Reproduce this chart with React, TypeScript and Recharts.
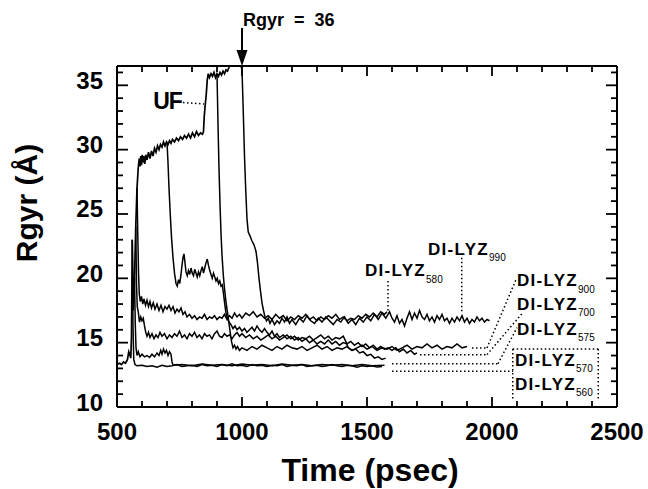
import React from 'react';
import { LineChart, Line, XAxis, YAxis, ReferenceLine, ReferenceDot, Label } from 'recharts';

type Pt = [number, number];

// time (psec) vs Rgyr (Å)
const uf: Pt[] = [
  [500, 13.3], [510, 13.4], [518, 13.3], [526, 13.5], [534, 13.4], [542, 13.7], [547, 14.3], [551, 14.1],
  [555, 13.8], [558, 15.5], [561, 23.0], [565, 17.5], [570, 20.0], [575, 24.0], [580, 27.0], [585, 28.6],
  [589, 29.3], [592, 28.7], [595, 29.5], [598, 28.8], [601, 29.6], [604, 29.0], [607, 29.5], [611, 28.9],
  [615, 29.6], [620, 29.2], [626, 29.8], [632, 29.3], [638, 29.9], [644, 29.5], [650, 30.1], [656, 29.8],
  [662, 30.3], [668, 30.0], [674, 30.4], [680, 30.2], [686, 30.6], [692, 30.3], [698, 30.6], [704, 30.4],
  [710, 30.7], [716, 30.5], [722, 30.8], [730, 30.6], [738, 30.9], [746, 30.7], [754, 31.0], [762, 30.8],
  [770, 31.1], [778, 30.9], [786, 31.2], [794, 30.9], [802, 31.3], [810, 31.0], [818, 31.4], [826, 31.1],
  [834, 31.3], [842, 31.2], [846, 31.4], [849, 32.6], [853, 33.5], [857, 34.3], [861, 35.4], [865, 35.9],
  [870, 35.6], [876, 35.9], [882, 35.7], [888, 36.0], [894, 35.6], [900, 35.9], [906, 35.7], [912, 36.0],
  [918, 35.8], [924, 36.1], [930, 35.9], [936, 36.2], [942, 36.1], [948, 36.4], [954, 36.9], [962, 37.2],
  [975, 37.3], [990, 36.9],
];

const di560: Pt[] = [
  [561, 23.0], [564, 16.2], [567, 13.7], [572, 13.3], [580, 13.2], [600, 13.25], [620, 13.15], [640, 13.2],
  [660, 13.1], [680, 13.25], [700, 13.15], [720, 13.2], [740, 13.3], [760, 13.15], [780, 13.2], [800, 13.25],
  [820, 13.15], [840, 13.3], [860, 13.2], [880, 13.25], [900, 13.15], [920, 13.3], [940, 13.2], [960, 13.35],
  [980, 13.2], [1000, 13.25], [1020, 13.15], [1040, 13.3], [1060, 13.2], [1080, 13.25], [1100, 13.15],
  [1120, 13.25], [1140, 13.2], [1160, 13.3], [1180, 13.15], [1200, 13.25], [1220, 13.2], [1240, 13.3],
  [1260, 13.15], [1280, 13.2], [1300, 13.25], [1320, 13.15], [1340, 13.2], [1360, 13.3], [1380, 13.2],
  [1400, 13.15], [1420, 13.25], [1440, 13.2], [1460, 13.1], [1480, 13.2], [1500, 13.15], [1520, 13.2],
  [1540, 13.1], [1560, 13.15],
];

const di570: Pt[] = [
  [570, 20.0], [573, 16.5], [576, 14.6], [580, 14.0], [585, 14.3], [592, 13.9], [600, 14.1], [610, 13.9],
  [620, 14.0], [630, 13.85], [640, 14.1], [650, 13.9], [660, 14.2], [668, 14.0], [675, 14.4], [680, 14.1],
  [686, 14.5], [692, 14.2], [698, 14.4], [704, 14.0], [710, 14.3], [716, 14.1], [720, 13.5], [724, 13.25],
  [760, 13.3], [800, 13.2], [840, 13.35], [880, 13.25], [920, 13.3], [960, 13.2], [1000, 13.35], [1040, 13.25],
  [1080, 13.3], [1120, 13.2], [1160, 13.35], [1200, 13.25], [1240, 13.3], [1280, 13.2], [1320, 13.3],
  [1360, 13.25], [1400, 13.3], [1440, 13.2], [1480, 13.3], [1520, 13.2], [1570, 13.25],
];

const di575: Pt[] = [
  [575, 24.0], [578, 19.5], [581, 17.8], [585, 17.4], [590, 16.6], [595, 17.0], [600, 16.7], [605, 16.9],
  [610, 16.3], [615, 15.8], [620, 15.5], [626, 15.8], [632, 15.4], [640, 15.7], [648, 15.3], [656, 15.6],
  [664, 15.4], [672, 15.8], [680, 15.5], [690, 15.7], [700, 15.3], [710, 15.6], [720, 15.4], [730, 15.7],
  [740, 15.5], [750, 15.9], [760, 15.4], [770, 15.6], [780, 15.3], [790, 15.7], [800, 15.5], [810, 15.8],
  [820, 15.4], [830, 15.6], [840, 15.3], [850, 15.7], [860, 15.5], [870, 15.6], [880, 15.3], [890, 15.7],
  [900, 15.9], [910, 15.5], [920, 15.4], [930, 15.7], [940, 15.5], [950, 15.6], [960, 15.3], [970, 15.6],
  [980, 15.8], [990, 15.5], [1000, 15.7], [1015, 15.4], [1030, 15.6], [1045, 15.3], [1060, 15.5], [1075, 15.2],
  [1090, 15.4], [1105, 15.6], [1120, 15.3], [1135, 15.5], [1150, 15.2], [1165, 15.4], [1180, 15.6], [1195, 15.3],
  [1210, 15.5], [1225, 15.2], [1240, 15.4], [1255, 15.3], [1270, 15.5], [1285, 15.2], [1300, 15.4], [1315, 15.6],
  [1330, 15.3], [1345, 15.5], [1360, 15.2], [1375, 15.4], [1390, 15.3], [1405, 15.5], [1415, 15.1], [1425, 14.6],
  [1440, 14.4], [1455, 14.5], [1470, 14.2], [1485, 14.3], [1500, 14.0], [1515, 14.1], [1530, 13.8], [1545, 13.9],
  [1560, 13.7], [1575, 13.8],
];

const di580: Pt[] = [
  [580, 27.0], [583, 23.5], [586, 20.5], [589, 18.8], [593, 18.2], [598, 18.6], [603, 18.0], [608, 18.4],
  [614, 17.9], [620, 18.3], [626, 17.8], [632, 18.2], [638, 17.7], [645, 18.1], [652, 17.6], [660, 18.0],
  [668, 17.5], [676, 17.9], [684, 17.4], [692, 17.8], [700, 17.6], [708, 17.9], [716, 17.5], [724, 17.8],
  [732, 17.3], [740, 17.6], [748, 17.4], [756, 17.7], [764, 17.2], [772, 17.4], [780, 17.0], [790, 17.2],
  [800, 16.9], [810, 17.1], [820, 16.8], [830, 17.0], [840, 16.9], [850, 17.2], [860, 16.8], [870, 17.0],
  [880, 16.9], [890, 17.1], [900, 16.8], [910, 17.0], [920, 16.9], [930, 17.2], [940, 16.8], [950, 17.1],
  [960, 16.9], [970, 17.3], [980, 17.0], [990, 17.2], [1000, 16.9], [1015, 17.3], [1030, 17.1], [1045, 17.4],
  [1060, 17.0], [1075, 17.2], [1090, 16.9], [1105, 17.1], [1120, 16.8], [1135, 17.2], [1150, 16.9], [1165, 17.1],
  [1180, 16.7], [1195, 17.0], [1210, 16.8], [1225, 17.1], [1240, 16.9], [1255, 17.2], [1270, 16.8], [1285, 17.0],
  [1300, 16.7], [1315, 17.0], [1330, 16.8], [1345, 17.1], [1360, 16.9], [1375, 17.2], [1390, 16.8], [1405, 17.0],
  [1420, 16.7], [1435, 16.9], [1450, 16.8], [1465, 17.1], [1480, 16.9], [1495, 17.2], [1510, 17.0], [1525, 17.3],
  [1540, 17.0], [1555, 17.4], [1570, 17.2], [1580, 17.4],
];

const di700: Pt[] = [
  [700, 30.6], [704, 29.0], [708, 27.0], [713, 25.0], [718, 23.2], [724, 21.6], [730, 20.4], [736, 19.6],
  [741, 19.4], [746, 19.9], [751, 19.6], [756, 20.3], [760, 21.0], [764, 21.6], [768, 21.9], [772, 21.2],
  [776, 20.5], [781, 20.2], [786, 20.6], [791, 20.3], [796, 20.8], [801, 20.4], [806, 20.2], [811, 20.7],
  [816, 20.4], [821, 20.1], [826, 20.5], [831, 20.2], [836, 20.6], [841, 20.9], [846, 20.4], [851, 20.8],
  [856, 21.2], [861, 21.5], [866, 21.0], [871, 20.6], [876, 20.3], [881, 20.0], [886, 20.4], [891, 20.1],
  [896, 19.8], [901, 20.0], [906, 19.6], [911, 19.8], [916, 19.4], [921, 19.5], [926, 18.8], [931, 18.0],
  [936, 17.3], [941, 16.9], [948, 16.6], [956, 16.4], [964, 16.1], [972, 16.3], [980, 16.0], [990, 16.2],
  [1000, 15.9], [1010, 16.1], [1020, 15.8], [1030, 16.0], [1040, 16.2], [1050, 15.9], [1060, 16.3], [1070, 16.0],
  [1080, 15.8], [1090, 16.1], [1100, 15.8], [1110, 15.6], [1120, 15.9], [1130, 15.5], [1140, 15.7], [1150, 15.4],
  [1165, 15.6], [1180, 15.3], [1195, 15.5], [1210, 15.2], [1225, 15.4], [1240, 15.1], [1255, 15.3], [1270, 15.0],
  [1285, 15.2], [1300, 14.9], [1315, 15.1], [1330, 14.9], [1345, 15.2], [1360, 14.9], [1375, 15.1], [1390, 14.8],
  [1405, 15.0], [1420, 14.9], [1435, 15.1], [1450, 14.8], [1465, 15.0], [1480, 14.7], [1495, 14.9], [1510, 14.6],
  [1525, 14.8], [1540, 14.5], [1555, 14.7], [1570, 14.5], [1585, 14.6], [1600, 14.4], [1615, 14.6], [1630, 14.3],
  [1645, 14.5], [1660, 14.2], [1675, 14.4], [1690, 14.1], [1700, 14.2],
];

const di900: Pt[] = [
  [900, 35.9], [904, 32.0], [908, 28.5], [912, 25.8], [916, 23.5], [920, 21.8], [925, 20.3], [930, 19.2],
  [935, 18.3], [940, 17.6], [946, 16.8], [952, 15.9], [958, 15.1], [964, 14.6], [970, 14.8], [976, 14.5],
  [982, 14.7], [990, 14.4], [1000, 14.6], [1020, 14.4], [1040, 14.7], [1060, 14.5], [1080, 14.8], [1100, 14.6],
  [1120, 14.4], [1140, 14.7], [1160, 14.5], [1180, 14.8], [1200, 14.6], [1220, 14.5], [1240, 14.7], [1260, 14.4],
  [1280, 14.6], [1300, 14.8], [1320, 14.5], [1340, 14.7], [1360, 14.4], [1380, 14.6], [1400, 14.5], [1420, 14.7],
  [1440, 14.4], [1460, 14.6], [1480, 14.8], [1500, 14.5], [1520, 14.7], [1540, 14.4], [1560, 14.6], [1580, 14.5],
  [1600, 14.7], [1620, 14.4], [1640, 14.6], [1660, 14.8], [1680, 14.5], [1700, 14.7], [1720, 14.6], [1740, 14.9],
  [1760, 14.6], [1780, 14.8], [1800, 14.5], [1820, 14.7], [1840, 14.6], [1860, 14.9], [1880, 14.6], [1900, 14.7],
];

const di990: Pt[] = [
  [990, 36.9], [1000, 36.2], [1005, 33.0], [1010, 29.5], [1015, 26.8], [1020, 24.6], [1025, 23.6], [1032, 23.3],
  [1040, 22.9], [1048, 22.6], [1056, 22.1], [1062, 21.2], [1068, 20.0], [1074, 19.0], [1080, 18.1], [1086, 17.5],
  [1092, 17.0], [1098, 16.7], [1105, 16.9], [1112, 16.5], [1120, 16.8], [1130, 16.4], [1140, 16.7], [1150, 16.5],
  [1160, 16.9], [1170, 16.6], [1180, 17.0], [1190, 16.5], [1200, 16.8], [1215, 16.4], [1230, 16.9], [1245, 16.6],
  [1260, 17.1], [1275, 16.7], [1290, 16.5], [1305, 16.9], [1320, 16.6], [1335, 17.0], [1350, 16.7], [1365, 16.4],
  [1380, 16.8], [1395, 16.6], [1410, 17.0], [1425, 16.5], [1440, 16.8], [1455, 16.4], [1470, 16.9], [1485, 16.6],
  [1500, 17.0], [1515, 16.7], [1530, 17.2], [1545, 16.8], [1560, 17.3], [1575, 16.9], [1590, 17.4], [1600, 16.9],
  [1610, 16.6], [1620, 17.1], [1630, 16.5], [1640, 16.8], [1650, 16.3], [1660, 16.9], [1670, 17.4], [1680, 16.8],
  [1690, 17.3], [1700, 16.9], [1710, 17.5], [1720, 17.0], [1730, 16.8], [1740, 17.2], [1750, 16.7], [1760, 17.0],
  [1770, 16.6], [1780, 17.1], [1790, 16.8], [1800, 17.2], [1810, 16.7], [1820, 16.9], [1830, 16.5], [1840, 16.9],
  [1850, 16.6], [1860, 17.0], [1870, 16.7], [1880, 17.1], [1890, 16.6], [1900, 16.9], [1910, 16.5], [1920, 16.8],
  [1930, 16.6], [1940, 17.0], [1950, 16.7], [1960, 16.9], [1970, 16.6], [1980, 16.8], [1990, 16.7],
];

const xTicks = [500, 600, 700, 800, 900, 1000, 1100, 1200, 1300, 1400, 1500, 1600, 1700, 1800, 1900, 2000, 2100, 2200, 2300, 2400, 2500];
const yTicks = [10, 11, 12, 13, 14, 15, 16, 17, 18, 19, 20, 21, 22, 23, 24, 25, 26, 27, 28, 29, 30, 31, 32, 33, 34, 35, 36];

const series = [uf, di560, di570, di575, di580, di700, di900, di990];

const FONT = '"Liberation Sans", Arial, Helvetica, sans-serif';
const X0 = 500, X1 = 2500, Y0 = 10, Y1 = 36.5;

const rows = (pts: Pt[]) => pts.map(([t, r]) => ({ t, r }));

const XTick = (props: any) => {
  const { x, y, payload } = props;
  const v = payload.value;
  if (v % 500 !== 0) return <g />;
  return (
    <text x={x} y={y + 33} textAnchor="middle" fontFamily={FONT} fontWeight="bold" fontSize={24} fill="#000">
      {v}
    </text>
  );
};

const YTick = (props: any) => {
  const { x, y, payload } = props;
  const v = payload.value;
  if (v % 5 !== 0) return <g />;
  return (
    <text x={x - 14} y={y + 3.5} textAnchor="end" fontFamily={FONT} fontWeight="bold" fontSize={24} fill="#000">
      {v}
    </text>
  );
};

const xTitle = (props: any) => {
  const vb = props.viewBox;
  return (
    <text x={vb.x + vb.width / 2 + 3} y={vb.y + 74} textAnchor="middle" fontFamily={FONT} fontWeight="bold" fontSize={32} fill="#000">
      Time (psec)
    </text>
  );
};

const yTitle = () => (
  <text x={37} y={203} transform="rotate(-90, 37, 203)" textAnchor="middle" fontFamily={FONT} fontWeight="bold" fontSize={30} fill="#000">
    Rgyr (Å)
  </text>
);

// inward tick mark drawn at a point on the frame; dx/dy give its direction and length
const stub = (dx: number, dy: number) => (p: any) => (
  <line x1={p.cx} y1={p.cy} x2={p.cx + dx} y2={p.cy + dy} stroke="#000" strokeWidth={1.8} />
);

// text placed at a data point, with an optional subscript
const tag = (main: string, sub?: string, size = 17) => (props: any) => (
  <text x={props.cx} y={props.cy} fontFamily={FONT} fontWeight="bold" fontSize={size} fill="#000" letterSpacing={sub ? 1.3 : -1}>
    {main}
    {sub && (
      <tspan dy={6.5} fontSize={10} fontWeight="normal" letterSpacing={0}>
        {sub}
      </tspan>
    )}
  </text>
);

const arrow = (props: any) => {
  const { cx, cy } = props;
  return (
    <g>
      <line x1={cx} y1={cy - 38} x2={cx} y2={cy - 14} stroke="#000" strokeWidth={2} />
      <polygon points={`${cx - 5.5},${cy - 16} ${cx + 5.5},${cy - 16} ${cx},${cy}`} fill="#000" />
      <text x={cx + 1} y={cy - 40} fontFamily={FONT} fontWeight="bold" fontSize={18} fill="#000" style={{ whiteSpace: 'pre' }}>
        {'Rgyr  =  36'}
      </text>
    </g>
  );
};

const frame = { stroke: '#000', strokeWidth: 2, ifOverflow: 'visible' as const };
const dots = { stroke: '#000', strokeWidth: 1.5, strokeDasharray: '1.5 2.5', ifOverflow: 'visible' as const };

const xLen = (v: number) => (v % 500 === 0 ? 10 : 6);
const yLen = (v: number) => (v % 5 === 0 ? 11 : 6);

export default function App() {
  return (
    <div style={{ position: 'fixed', left: 0, top: 0, width: 648, height: 489, background: '#fff' }}>
      <LineChart width={648} height={489} margin={{ top: 66, right: 31, bottom: 0, left: 0 }}>
        <XAxis
          dataKey="t"
          type="number"
          domain={[X0, X1]}
          ticks={xTicks}
          interval={0}
          allowDataOverflow
          axisLine={false}
          tickLine={false}
          tickSize={0}
          tickMargin={0}
          height={82}
          tick={<XTick />}
        >
          <Label content={xTitle} />
        </XAxis>
        <YAxis
          type="number"
          domain={[Y0, Y1]}
          ticks={yTicks}
          interval={0}
          allowDataOverflow
          axisLine={false}
          tickLine={false}
          tickSize={0}
          tickMargin={0}
          width={117}
          tick={<YTick />}
        >
          <Label content={yTitle} />
        </YAxis>
        <ReferenceLine segment={[{ x: X0, y: Y0 }, { x: X1, y: Y0 }]} {...frame} />
        <ReferenceLine segment={[{ x: X0, y: Y1 }, { x: X1, y: Y1 }]} {...frame} />
        <ReferenceLine segment={[{ x: X0, y: Y0 }, { x: X0, y: Y1 }]} {...frame} />
        <ReferenceLine segment={[{ x: X1, y: Y0 }, { x: X1, y: Y1 }]} {...frame} />
        {series.map((s, i) => (
          <Line
            key={i}
            data={rows(s)}
            dataKey="r"
            type="linear"
            stroke="#000"
            strokeWidth={i === 0 ? 1.7 : 1.5}
            dot={false}
            activeDot={false}
            isAnimationActive={false}
          />
        ))}
        <ReferenceLine segment={[{ x: 764, y: 33.66 }, { x: 848, y: 33.55 }]} {...dots} />
        <ReferenceLine segment={[{ x: 1879, y: 21.6 }, { x: 1879, y: 17.3 }]} {...dots} />
        <ReferenceLine segment={[{ x: 1584, y: 19.8 }, { x: 1584, y: 17.5 }]} {...dots} />
        <ReferenceLine segment={[{ x: 1920, y: 14.59 }, { x: 1980, y: 14.59 }]} {...dots} />
        <ReferenceLine segment={[{ x: 1980, y: 14.59 }, { x: 2096, y: 19.9 }]} {...dots} />
        <ReferenceLine segment={[{ x: 1712, y: 14.07 }, { x: 1980, y: 14.07 }]} {...dots} />
        <ReferenceLine segment={[{ x: 1980, y: 14.07 }, { x: 2120, y: 17.26 }]} {...dots} />
        <ReferenceLine segment={[{ x: 1600, y: 13.37 }, { x: 2024, y: 13.37 }]} {...dots} />
        <ReferenceLine segment={[{ x: 2024, y: 13.37 }, { x: 2100, y: 16.17 }]} {...dots} />
        <ReferenceLine segment={[{ x: 1600, y: 12.77 }, { x: 2084, y: 12.77 }]} {...dots} />
        <ReferenceLine segment={[{ x: 2083, y: 14.51 }, { x: 2425, y: 14.51 }]} {...dots} />
        <ReferenceLine segment={[{ x: 2425, y: 14.51 }, { x: 2425, y: 10.57 }]} {...dots} />
        <ReferenceLine segment={[{ x: 2083, y: 14.51 }, { x: 2083, y: 10.57 }]} {...dots} />
        {xTicks.map((v) => (
          <ReferenceDot key={`xb${v}`} x={v} y={Y0} r={0} ifOverflow="visible" shape={stub(0, -xLen(v))} />
        ))}
        {xTicks.map((v) => (
          <ReferenceDot key={`xt${v}`} x={v} y={Y1} r={0} ifOverflow="visible" shape={stub(0, xLen(v))} />
        ))}
        {yTicks.map((v) => (
          <ReferenceDot key={`yl${v}`} x={X0} y={v} r={0} ifOverflow="visible" shape={stub(yLen(v), 0)} />
        ))}
        {yTicks.map((v) => (
          <ReferenceDot key={`yr${v}`} x={X1} y={v} r={0} ifOverflow="visible" shape={stub(-yLen(v), 0)} />
        ))}
        <ReferenceDot x={645} y={33.12} r={0} ifOverflow="visible" shape={tag('UF', undefined, 23)} />
        <ReferenceDot x={1744} y={21.84} r={0} ifOverflow="visible" shape={tag('DI-LYZ', '990')} />
        <ReferenceDot x={1492} y={20.16} r={0} ifOverflow="visible" shape={tag('DI-LYZ', '580')} />
        <ReferenceDot x={2100} y={19.38} r={0} ifOverflow="visible" shape={tag('DI-LYZ', '900')} />
        <ReferenceDot x={2100} y={17.57} r={0} ifOverflow="visible" shape={tag('DI-LYZ', '700')} />
        <ReferenceDot x={2100} y={15.62} r={0} ifOverflow="visible" shape={tag('DI-LYZ', '575')} />
        <ReferenceDot x={2092} y={13.21} r={0} ifOverflow="visible" shape={tag('DI-LYZ', '570')} />
        <ReferenceDot x={2092} y={11.35} r={0} ifOverflow="visible" shape={tag('DI-LYZ', '560')} />
        <ReferenceDot x={1000} y={36.5} r={0} ifOverflow="visible" shape={arrow} />
      </LineChart>
    </div>
  );
}
